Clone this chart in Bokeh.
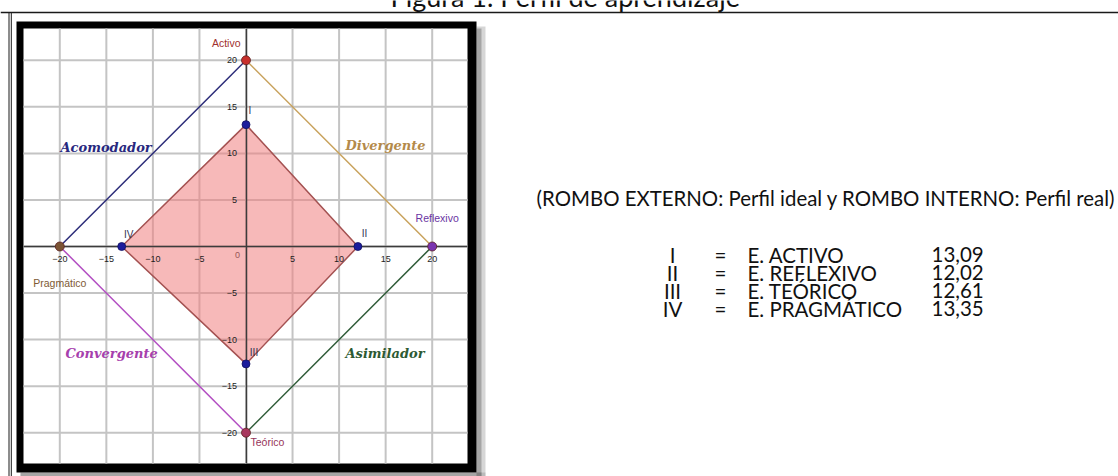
from bokeh.plotting import figure
from bokeh.models import Range1d, LinearAxis, FixedTicker, Span
from bokeh.core.properties import value
from bokeh.embed import file_html
from bokeh.resources import INLINE

# ---------------- data ----------------
outer_names = ["Activo", "Reflexivo", "Teórico", "Pragmático"]
outer_x = [0, 20, 0, -20]
outer_y = [20, 0, -20, 0]
style_names = ["Divergente", "Asimilador", "Convergente", "Acomodador"]
inner_labels = ["I", "II", "III", "IV"]
inner_names = ["E. ACTIVO", "E. REFLEXIVO", "E. TEÓRICO", "E. PRAGMÁTICO"]
inner_values = [13.09, 12.02, 12.61, 13.35]
axis_ticks = [-20, -15, -10, -5, 0, 5, 10, 15, 20]
title_text = "Figura 1. Perfil de aprendizaje"
note_text = "(ROMBO EXTERNO: Perfil ideal y ROMBO INTERNO: Perfil real)"

# ---------------- layout helpers (canvas pixels -> data) ----------------
X0, Y0, S = 245.5, 246.0, 9.31
W, H = 1118, 476


def dx(px):
    return (px - X0) / S


def dy(py):
    return (Y0 - py) / S


p = figure(width=W, height=H, output_backend="svg", toolbar_location=None,
           x_range=Range1d(dx(0), dx(W)), y_range=Range1d(dy(H), dy(0)),
           x_axis_type=None, y_axis_type=None, min_border=0,
           background_fill_color="white", border_fill_color="white")
p.outline_line_color = None
p.grid.visible = False

# page lines
p.add_layout(Span(location=dy(12), dimension="width", line_color="#1a1a1a", line_width=1.5))
p.segment(x0=[dx(8.5), dx(10.8)], y0=[dy(12), dy(12)], x1=[dx(8.5), dx(10.8)], y1=[dy(480), dy(480)],
          line_color="#1a1a1a", line_width=1)

# shadow of the frame
p.quad(left=[dx(476), dx(20)], right=[dx(485), dx(485)], top=[dy(26), dy(472)], bottom=[dy(479), dy(479)],
       fill_color="#8a8a8a", fill_alpha=0.35, line_color=None)
p.quad(left=[dx(476), dx(20)], right=[dx(481), dx(481)], top=[dy(28), dy(472)], bottom=[dy(476), dy(476)],
       fill_color="#6a6a6a", fill_alpha=0.45, line_color=None)

# black frame and white plotting area
p.quad(left=[dx(16)], right=[dx(476)], top=[dy(21)], bottom=[dy(472)], fill_color="black", line_color=None)
xa, xb, ya, yb = dx(23), dx(467), dy(463), dy(28)
p.quad(left=[xa], right=[xb], top=[yb], bottom=[ya], fill_color="white", line_color=None)

# grid
p.segment(x0=axis_ticks, y0=[ya] * len(axis_ticks), x1=axis_ticks, y1=[yb] * len(axis_ticks),
          line_color="#c4c4c4", line_width=2)
p.segment(x0=[xa] * len(axis_ticks), y0=axis_ticks, x1=[xb] * len(axis_ticks), y1=axis_ticks,
          line_color="#c4c4c4", line_width=2)

# axes through the origin
tick_font = value("Liberation Sans")
xaxis = LinearAxis(fixed_location=0, bounds=(xa, xb),
                   ticker=FixedTicker(ticks=[t for t in axis_ticks if t != 0]))
yaxis = LinearAxis(fixed_location=0, bounds=(ya, yb),
                   ticker=FixedTicker(ticks=[t for t in axis_ticks if t != 0]))
for ax in (xaxis, yaxis):
    ax.axis_line_color = "#3c3c3c"
    ax.axis_line_width = 1.5
    ax.major_tick_line_color = None
    ax.minor_tick_line_color = None
    ax.major_label_text_font = "Liberation Sans"
    ax.major_label_text_font_size = "9px"
    ax.major_label_text_color = "#1e1e1e"
xaxis.major_label_standoff = 3
yaxis.major_label_standoff = 3
p.add_layout(xaxis, "below")
p.add_layout(yaxis, "left")
p.text(x=[0], y=[0], text=["0"], x_offset=-8.5, y_offset=8, text_align="center", text_baseline="middle",
       text_font=tick_font, text_font_size="9px", text_color="#1e1e1e")

# inner rhombus (real profile)
inner_x = [0, inner_values[1], 0, -inner_values[3]]
inner_y = [inner_values[0], 0, -inner_values[2], 0]
p.patch(x=inner_x, y=inner_y, fill_color="#f08080", fill_alpha=0.55, line_color="#a45252", line_width=1.5)

# outer rhombus (ideal profile), one edge per style
edge_colors = ["#c8a25c", "#2f5b37", "#b24ec2", "#2b2b78"]
nx = outer_x[1:] + outer_x[:1]
ny = outer_y[1:] + outer_y[:1]
p.segment(x0=outer_x, y0=outer_y, x1=nx, y1=ny, line_color=edge_colors, line_width=1.5)

# style labels
serif = value("DejaVu Serif")
style_colors = ["#b48a4a", "#2d5a33", "#a640ad", "#28287e"]
style_lx = [dx(345), dx(345), dx(65), dx(60)]
style_ly = [dy(145), dy(353), dy(353), dy(147)]
p.text(x=style_lx, y=style_ly, text=style_names, text_color=style_colors, text_font=serif,
       text_font_style="bold italic", text_font_size="13px", text_align="left", text_baseline="alphabetic")

# outer points and labels
point_colors = ["#c8302c", "#7a34b0", "#a8385e", "#7b5434"]
pts = p.scatter(x=outer_x, y=outer_y, size=9, fill_color=point_colors, line_color="#5a2020", line_width=0.8)
pts.level = "overlay"
lab_colors = ["#a0302e", "#6a34a2", "#96345a", "#7e5a34"]
lab_align = ["right", "center", "left", "center"]
lab_xo = [-5.5, 5, 4.5, 0]
lab_yo = [-17, -29, 9, 36]
ol = p.text(x=outer_x, y=outer_y, text=outer_names, text_color=lab_colors, text_align=lab_align,
            x_offset=lab_xo, y_offset=lab_yo, text_baseline="middle",
            text_font=value("Liberation Sans"), text_font_size="10.5px")
ol.level = "overlay"

# inner points and labels
ipts = p.scatter(x=inner_x, y=inner_y, size=8, fill_color="#1c1c9c", line_color="#101060", line_width=0.8)
ipts.level = "overlay"
il = p.text(x=inner_x, y=inner_y, text=inner_labels, x_offset=[4, 6.5, 8, 7], y_offset=[-14, -13, -11.5, -12],
            text_align="center", text_baseline="middle", text_color="#333350",
            text_font=value("Liberation Sans"), text_font_size="10px")
il.level = "overlay"

# ---------------- right-hand text ----------------
body = value("Lato")
p.text(x=[dx(390)], y=[dy(1)], y_offset=-5, text=[title_text], text_align="left", text_baseline="alphabetic",
       text_font=body, text_font_size="27px", text_color="#111111")
p.text(x=[dx(1115)], y=[dy(197)], text=[note_text], text_align="right", text_baseline="middle",
       text_font=body, text_font_size="20.4px", text_color="#111111")

row_y = [dy(254), dy(272), dy(290), dy(308)]
p.text(x=[dx(672)] * 4, y=row_y, text=inner_labels, text_align="center", text_baseline="middle",
       text_font=body, text_font_size="20.5px", text_color="#111111")
p.text(x=[dx(720)] * 4, y=row_y, text=["="] * 4, text_align="center", text_baseline="middle",
       text_font=body, text_font_size="20.5px", text_color="#111111")
p.text(x=[dx(747)] * 4, y=row_y, text=inner_names, text_align="left", text_baseline="middle",
       text_font=body, text_font_size="20.5px", text_color="#111111")
p.text(x=[dx(931)] * 4, y=row_y, text=[f"{v:.2f}".replace(".", ",") for v in inner_values],
       text_align="left", text_baseline="middle",
       text_font=body, text_font_size="20.5px", text_color="#111111")

open("out.html", "w").write(file_html(p, INLINE))
